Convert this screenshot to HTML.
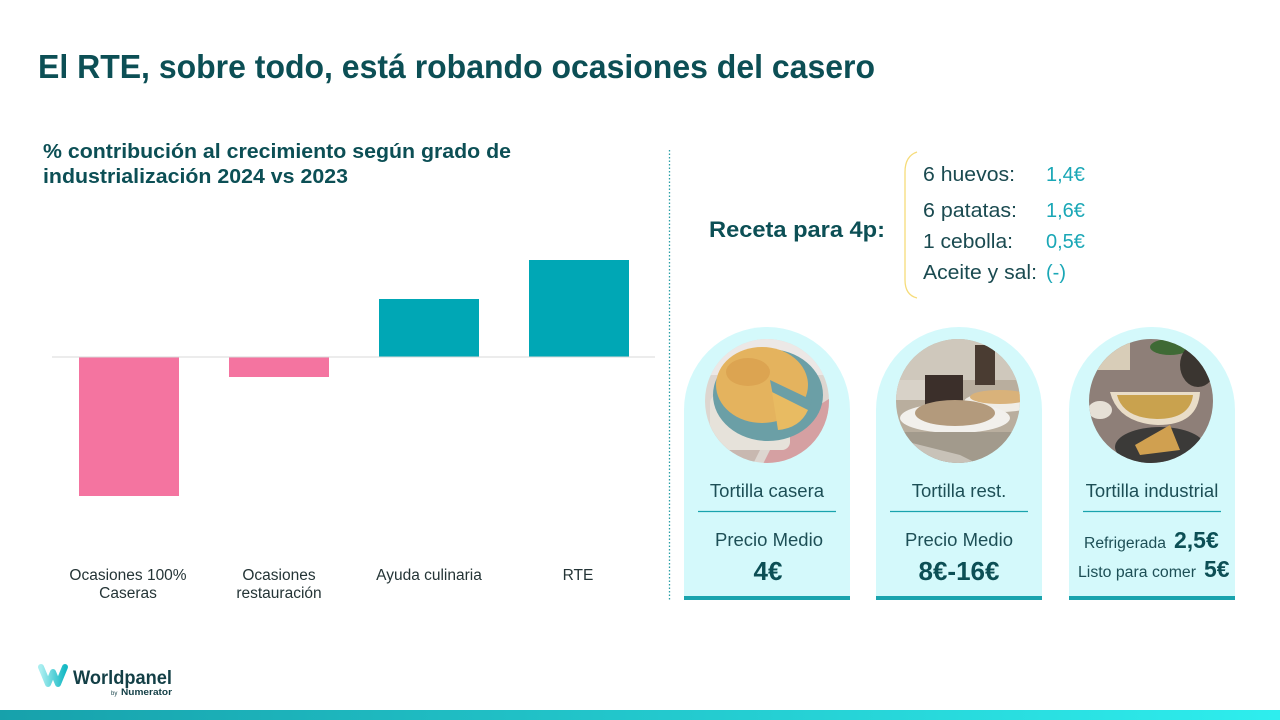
<!DOCTYPE html>
<html><head><meta charset="utf-8"><style>
html,body{margin:0;padding:0;background:#fff;}
svg{display:block;}
text{font-family:"Liberation Sans",Arial,sans-serif;}
</style></head><body>
<svg width="1280" height="720" viewBox="0 0 1280 720" xmlns="http://www.w3.org/2000/svg">
<defs>
<linearGradient id="bot" x1="0" x2="1" y1="0" y2="0"><stop offset="0" stop-color="#17a1ab"/><stop offset="1" stop-color="#2eeeee"/></linearGradient>
<linearGradient id="wg" x1="0" x2="1" y1="0" y2="0"><stop offset="0" stop-color="#a9eef0"/><stop offset="1" stop-color="#16b9c4"/></linearGradient>
<clipPath id="c1"><circle cx="767" cy="401" r="62"/></clipPath>
<clipPath id="c2"><circle cx="958" cy="401" r="62"/></clipPath>
<clipPath id="c3"><circle cx="1151" cy="401" r="62"/></clipPath>
</defs>
<rect width="1280" height="720" fill="#fff"/>

<!-- Title -->
<text x="38" y="78" font-size="33" font-weight="bold" fill="#0c4f55" textLength="837" lengthAdjust="spacingAndGlyphs">El RTE, sobre todo, está robando ocasiones del casero</text>

<!-- Subtitle -->
<text x="43" y="158" font-size="20.5" font-weight="bold" fill="#0c4f55" textLength="468" lengthAdjust="spacingAndGlyphs">% contribución al crecimiento según grado de</text>
<text x="43" y="183" font-size="20.5" font-weight="bold" fill="#0c4f55" textLength="305" lengthAdjust="spacingAndGlyphs">industrialización 2024 vs 2023</text>

<!-- Chart -->
<rect x="79" y="357" width="100" height="139" fill="#f474a0"/>
<rect x="229" y="357" width="100" height="20" fill="#f474a0"/>
<rect x="379" y="299" width="100" height="58" fill="#00a7b5"/>
<rect x="529" y="260" width="100" height="97" fill="#00a7b5"/>
<line x1="52" y1="357" x2="655" y2="357" stroke="#d9d9d9" stroke-width="1"/>

<g font-size="15.5" fill="#243436" text-anchor="middle">
<text x="128" y="580">Ocasiones 100%</text>
<text x="128" y="598">Caseras</text>
<text x="279" y="580">Ocasiones</text>
<text x="279" y="598">restauración</text>
<text x="429" y="580">Ayuda culinaria</text>
<text x="578" y="580">RTE</text>
</g>

<!-- divider -->
<line x1="669.5" y1="150" x2="669.5" y2="601" stroke="#2a9fa6" stroke-width="1.3" stroke-dasharray="1.5 2"/>

<!-- Recipe -->
<text x="709" y="237" font-size="22" font-weight="bold" fill="#0c4f55" textLength="176" lengthAdjust="spacingAndGlyphs">Receta para 4p:</text>
<path d="M917,152 Q905,156 905,172 L905,280 Q905,295 917,298" fill="none" stroke="#f6dc7a" stroke-width="1.3"/>
<g font-size="20" fill="#1a4a50">
<text x="923" y="181" textLength="92" lengthAdjust="spacingAndGlyphs">6 huevos:</text>
<text x="923" y="217" textLength="94" lengthAdjust="spacingAndGlyphs">6 patatas:</text>
<text x="923" y="248" textLength="90" lengthAdjust="spacingAndGlyphs">1 cebolla:</text>
<text x="923" y="279" textLength="114" lengthAdjust="spacingAndGlyphs">Aceite y sal:</text>
</g>
<g font-size="20" fill="#1aa7b6">
<text x="1046" y="181">1,4€</text>
<text x="1046" y="217">1,6€</text>
<text x="1046" y="248">0,5€</text>
<text x="1046" y="279">(-)</text>
</g>

<!-- Cards -->
<g fill="#d4f9fb">
<path d="M684,598 L684,410 A83,83 0 0 1 850,410 L850,598 Z"/>
<path d="M876,598 L876,410 A83,83 0 0 1 1042,410 L1042,598 Z"/>
<path d="M1069,598 L1069,410 A83,83 0 0 1 1235,410 L1235,598 Z"/>
</g>
<g fill="#19a3ad">
<rect x="684" y="596" width="166" height="4"/>
<rect x="876" y="596" width="166" height="4"/>
<rect x="1069" y="596" width="166" height="4"/>
</g>
<g stroke="#19a3ad" stroke-width="1.2">
<line x1="698" y1="511.5" x2="836" y2="511.5"/>
<line x1="890" y1="511.5" x2="1028" y2="511.5"/>
<line x1="1083" y1="511.5" x2="1221" y2="511.5"/>
</g>

<!-- Image 1 -->
<g clip-path="url(#c1)">
<rect x="700" y="335" width="135" height="130" fill="#ddd6d0"/>
<rect x="700" y="335" width="135" height="40" fill="#ece8e6"/>
<polygon points="780,430 835,395 835,470 760,470" fill="#d5a0a2"/>
<polygon points="700,420 760,450 750,470 700,470" fill="#c8b8b0"/>
<rect x="710" y="395" width="80" height="55" rx="8" fill="#e6e2da"/>
<ellipse cx="768" cy="395" rx="55" ry="46" fill="#6b9fa6"/>
<ellipse cx="762" cy="385" rx="46" ry="38" fill="#e4b35e"/>
<path d="M770,380 L812,400 Q805,425 780,432 Z" fill="#6b9fa6"/>
<path d="M772,392 L808,410 Q800,428 778,430 Z" fill="#e8bb62"/>
<ellipse cx="748" cy="372" rx="22" ry="14" fill="#d7994a" opacity="0.6"/>
</g>

<!-- Image 2 -->
<g clip-path="url(#c2)">
<rect x="890" y="335" width="135" height="130" fill="#b9ae9e"/>
<rect x="890" y="335" width="135" height="45" fill="#cfc8bc"/>
<rect x="975" y="345" width="20" height="40" fill="#4a3c32"/>
<rect x="925" y="375" width="38" height="30" fill="#3b2f2a"/>
<rect x="895" y="380" width="30" height="20" fill="#d8d2c8"/>
<ellipse cx="1000" cy="402" rx="36" ry="10" fill="#f0ede6"/>
<ellipse cx="1000" cy="397" rx="30" ry="7" fill="#d9b27a"/>
<ellipse cx="955" cy="418" rx="55" ry="15" fill="#f2f0ec"/>
<ellipse cx="955" cy="413" rx="40" ry="13" fill="#b39a7c"/>
<rect x="890" y="432" width="135" height="35" fill="#a29a8c"/>
<polygon points="900,440 960,455 980,465 900,465" fill="#c8c2b8"/>
</g>

<!-- Image 3 -->
<g clip-path="url(#c3)">
<rect x="1085" y="335" width="135" height="130" fill="#8e7f78"/>
<rect x="1085" y="335" width="45" height="35" fill="#d8cdb8"/>
<ellipse cx="1170" cy="347" rx="20" ry="8" fill="#3f6a35"/>
<ellipse cx="1198" cy="365" rx="18" ry="22" fill="#3a3530"/>
<path d="M1110,392 L1200,392 Q1198,425 1158,425 Q1118,423 1110,392 Z" fill="#e9ddc8"/>
<path d="M1117,395 L1193,395 Q1190,419 1157,419 Q1123,418 1117,395 Z" fill="#c9a24e"/>
<ellipse cx="1100" cy="410" rx="12" ry="9" fill="#e6e0d6"/>
<ellipse cx="1160" cy="447" rx="45" ry="20" fill="#3b3a38"/>
<polygon points="1135,445 1170,425 1180,450 1140,455" fill="#d0a050"/>
</g>

<!-- Card texts -->
<g font-size="18.5" fill="#1d4f56" text-anchor="middle">
<text x="767" y="497">Tortilla casera</text>
<text x="959" y="497">Tortilla rest.</text>
<text x="1152" y="497">Tortilla industrial</text>
<text x="769" y="546">Precio Medio</text>
<text x="959" y="546">Precio Medio</text>
</g>
<g font-size="26" font-weight="bold" fill="#0c4f55" text-anchor="middle">
<text x="768" y="580">4€</text>
<text x="959" y="580">8€-16€</text>
</g>
<text x="1084" y="548" font-size="15.5" fill="#1d4f56" textLength="82" lengthAdjust="spacingAndGlyphs">Refrigerada</text>
<text x="1174" y="548" font-size="23" font-weight="bold" fill="#0c4f55">2,5€</text>
<text x="1078" y="577" font-size="15.5" fill="#1d4f56" textLength="118" lengthAdjust="spacingAndGlyphs">Listo para comer</text>
<text x="1204" y="577" font-size="23" font-weight="bold" fill="#0c4f55">5€</text>

<!-- Logo -->
<path d="M41,667 L48,684 L53,672 L58,684 L65,667" fill="none" stroke="url(#wg)" stroke-width="6" stroke-linejoin="round" stroke-linecap="round"/>
<text x="73" y="684" font-size="19.5" font-weight="bold" fill="#133f46" textLength="99" lengthAdjust="spacingAndGlyphs">Worldpanel</text>
<text x="111" y="695" font-size="6" fill="#133f46">by</text>
<text x="121" y="695" font-size="9" font-weight="bold" fill="#133f46" textLength="51" lengthAdjust="spacingAndGlyphs">Numerator</text>

<!-- bottom bar -->
<rect x="0" y="710" width="1280" height="10" fill="url(#bot)"/>
</svg>
</body></html>
